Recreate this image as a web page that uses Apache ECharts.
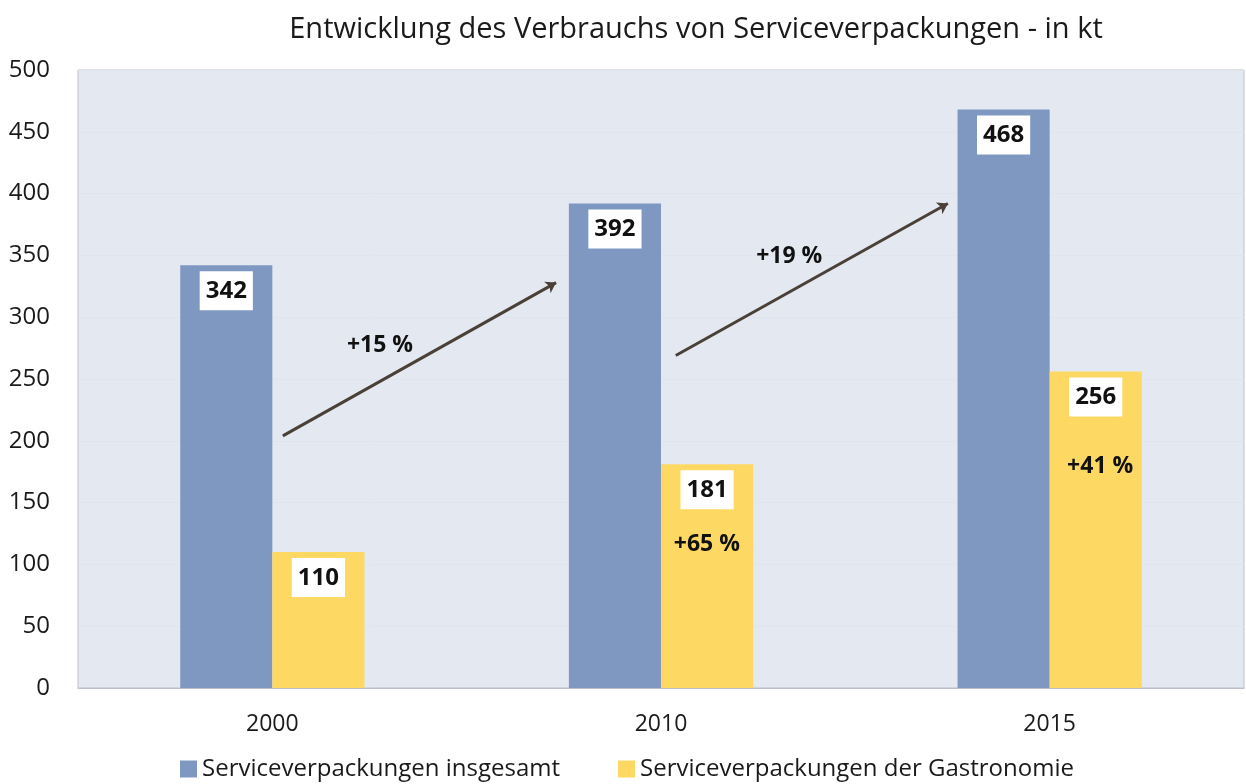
<!DOCTYPE html>
<html>
<head>
<meta charset="utf-8">
<title>Serviceverpackungen</title>
<script src="https://cdn.jsdelivr.net/npm/echarts@6/dist/echarts.min.js"></script>
<style>
  html, body { margin: 0; padding: 0; background: #fff; }
  #chart { width: 1246px; height: 784px; }
</style>
</head>
<body>
<div id="chart"></div>
<script>
    // Daten (kt)
    var years = ['2000', '2010', '2015'];
    var insgesamt = [342, 392, 468];
    var gastronomie = [110, 181, 256];
    // Zuwachs Gastronomie, Textposition [x, y] auf Hilfsachse 0..3
    var gastroGrowth = ['+65 %', '+41 %'];
    var gastroGrowthPos = [[1.618, 116], [2.63, 179]];
    // Pfeile fuer Gesamtzuwachs: [x, y] auf Hilfsachse 0..3
    var arrowStart = [[0.527, 204], [1.538, 269]];
    var arrowEnd = [[1.23, 328], [2.238, 392]];
    var arrowText = ['+15 %', '+19 %'];
    var arrowTextPos = [[0.777, 277], [1.83, 349]];

    var font = '"Open Sans", "Noto Sans", sans-serif';

    var myChart = echarts.init(document.getElementById('chart'));

    var arrowLines = arrowStart.map(function (s, i) {
        return { coords: [s, arrowEnd[i]] };
    });
    var textMarks = arrowText.map(function (t, i) {
        return { value: arrowTextPos[i].concat([t]) };
    }).concat(gastroGrowth.map(function (t, i) {
        return { value: gastroGrowthPos[i].concat([t]) };
    }));

    var option = {
        animation: false,
        textStyle: { fontFamily: font },
        title: {
            text: 'Entwicklung des Verbrauchs von Serviceverpackungen - in kt',
            left: 691,
            top: 10,
            textAlign: 'center',
            textStyle: { fontSize: 29, fontWeight: 'normal', color: '#1a1a1a', fontFamily: font }
        },
        legend: {
            bottom: -2,
            left: 175,
            itemWidth: 17,
            itemHeight: 17,
            itemGap: 58,
            icon: 'rect',
            textStyle: { fontSize: 24, color: '#1a1a1a' },
            data: ['Serviceverpackungen insgesamt', 'Serviceverpackungen der Gastronomie']
        },
        grid: {
            left: 78,
            right: 2,
            top: 70,
            bottom: 96,
            show: true,
            backgroundColor: '#e4e8f1',
            borderColor: '#bcc0c8',
            borderWidth: 1
        },
        xAxis: [
            {
                type: 'category',
                data: years,
                axisTick: { show: false },
                axisLine: { lineStyle: { color: '#bcc0c8' } },
                axisLabel: { fontSize: 23, color: '#1a1a1a', margin: 25 }
            },
            {
                type: 'value',
                min: 0,
                max: 3,
                show: false
            }
        ],
        yAxis: {
            type: 'value',
            min: 0,
            max: 500,
            interval: 50,
            axisLine: { show: false },
            axisTick: { show: false },
            axisLabel: { fontSize: 24, color: '#1a1a1a', margin: 28 },
            splitLine: { lineStyle: { color: '#e0e4ed' } }
        },
        series: [
            {
                name: 'Serviceverpackungen insgesamt',
                type: 'bar',
                barWidth: '23.7%',
                barGap: '0%',
                itemStyle: { color: '#7f98c2' },
                label: {
                    show: true,
                    position: 'insideTop',
                    distance: 6,
                    backgroundColor: '#fff',
                    padding: [8, 6, 7, 6],
                    color: '#111',
                    fontWeight: 'bold',
                    fontSize: 24
                },
                data: insgesamt
            },
            {
                name: 'Serviceverpackungen der Gastronomie',
                type: 'bar',
                barWidth: '23.7%',
                itemStyle: { color: '#fdd964' },
                label: {
                    show: true,
                    position: 'insideTop',
                    distance: 6,
                    backgroundColor: '#fff',
                    padding: [8, 6, 7, 6],
                    color: '#111',
                    fontWeight: 'bold',
                    fontSize: 24
                },
                data: gastronomie
            },
            {
                type: 'lines',
                coordinateSystem: 'cartesian2d',
                xAxisIndex: 1,
                yAxisIndex: 0,
                symbol: ['none', 'arrow'],
                symbolSize: 10,
                silent: true,
                lineStyle: { color: '#4a4038', width: 3, opacity: 1 },
                data: arrowLines
            },
            {
                type: 'scatter',
                xAxisIndex: 1,
                yAxisIndex: 0,
                symbolSize: 0,
                silent: true,
                itemStyle: { opacity: 1 },
                label: {
                    show: true,
                    position: 'inside',
                    formatter: function (p) { return p.value[2]; },
                    color: '#111',
                    fontWeight: 'bold',
                    fontSize: 23
                },
                data: textMarks
            }
        ]
    };

    myChart.setOption(option);
    window.onresize = function () {
        myChart.resize();
    };
</script>
</body>
</html>
